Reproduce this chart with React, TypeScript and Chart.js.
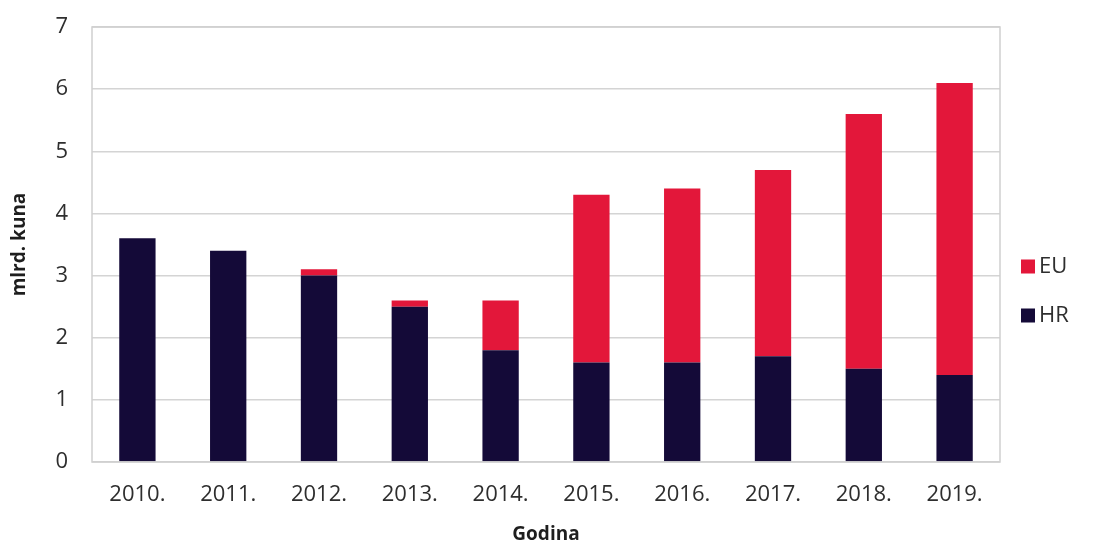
import React, { useEffect, useRef } from "react";
import { Chart, registerables } from "chart.js";

Chart.register(...registerables);

const years = ["2010.", "2011.", "2012.", "2013.", "2014.", "2015.", "2016.", "2017.", "2018.", "2019."];
const hrValues = [3.6, 3.4, 3.0, 2.5, 1.8, 1.6, 1.6, 1.7, 1.5, 1.4];
const euValues = [0, 0, 0.1, 0.1, 0.8, 2.7, 2.8, 3.0, 4.1, 4.7];
const yTicks = [0, 1, 2, 3, 4, 5, 6, 7];

const HR_COLOR = "#140a38";
const EU_COLOR = "#e3173a";
const FONT = "'Open Sans', 'Noto Sans', sans-serif";
const TEXT = "#2e2e2e";

const borderPlugin = {
  id: "plotBorder",
  afterDraw(chart: any) {
    const { ctx, chartArea } = chart;
    ctx.save();
    ctx.strokeStyle = "#cfcfcf";
    ctx.lineWidth = 1.5;
    ctx.strokeRect(chartArea.left, chartArea.top, chartArea.right - chartArea.left, chartArea.bottom - chartArea.top);
    ctx.restore();
  },
};

const legendPlugin = {
  id: "customLegend",
  afterDraw(chart: any) {
    const { ctx, chartArea } = chart;
    const items = [...chart.data.datasets].reverse();
    const x = chartArea.right + 21;
    const mid = (chartArea.top + chartArea.bottom) / 2;
    ctx.save();
    ctx.font = `22px ${FONT}`;
    ctx.textBaseline = "middle";
    ctx.textAlign = "left";
    items.forEach((ds: any, i: number) => {
      const y = mid + 22 + i * 49;
      ctx.fillStyle = ds.backgroundColor;
      ctx.fillRect(x, y - 7, 14, 14);
      ctx.fillStyle = TEXT;
      ctx.fillText(ds.label, x + 18, y);
    });
    ctx.restore();
  },
};

export default function App() {
  const ref = useRef<HTMLCanvasElement>(null);
  useEffect(() => {
    document.body.style.margin = "0";
    const chart = new Chart(ref.current!, {
      type: "bar",
      data: {
        labels: years,
        datasets: [
          { label: "HR", data: hrValues, backgroundColor: HR_COLOR, barPercentage: 0.4, categoryPercentage: 1 },
          { label: "EU", data: euValues, backgroundColor: EU_COLOR, barPercentage: 0.4, categoryPercentage: 1 },
        ],
      },
      options: {
        responsive: false,
        animation: false,
        layout: { padding: { top: 27, right: 95, left: 8, bottom: 0 } },
        plugins: { legend: { display: false }, tooltip: { enabled: false } },
        scales: {
          x: {
            stacked: true,
            grid: { display: false, drawTicks: false },
            border: { display: false },
            ticks: { font: { family: FONT, size: 22 }, color: TEXT, padding: 20 },
            title: { display: true, text: "Godina", font: { family: FONT, size: 19, weight: "bold" }, color: "#1e1e1e", padding: { top: 6, bottom: 0 } },
            afterFit: (s: any) => { s.height = 84; s.paddingLeft = 0; s.paddingRight = 0; },
          },
          y: {
            stacked: true,
            min: 0,
            max: 7,
            afterBuildTicks: (s: any) => { s.ticks = yTicks.map((v) => ({ value: v })); },
            grid: { color: "#d4d4d4", lineWidth: 1.5, drawTicks: false },
            border: { display: false },
            ticks: { font: { family: FONT, size: 22 }, color: TEXT, padding: 24 },
            title: { display: true, text: "mlrd. kuna", font: { family: FONT, size: 19, weight: "bold" }, color: "#1e1e1e", padding: { top: 0, bottom: 8 } },
            afterFit: (s: any) => { s.width = 84; s.paddingTop = 0; s.paddingBottom = 0; },
          },
        },
      },
      plugins: [borderPlugin, legendPlugin],
    });
    return () => chart.destroy();
  }, []);
  return <canvas ref={ref} width={1095} height={546} style={{ display: "block" }} />;
}
